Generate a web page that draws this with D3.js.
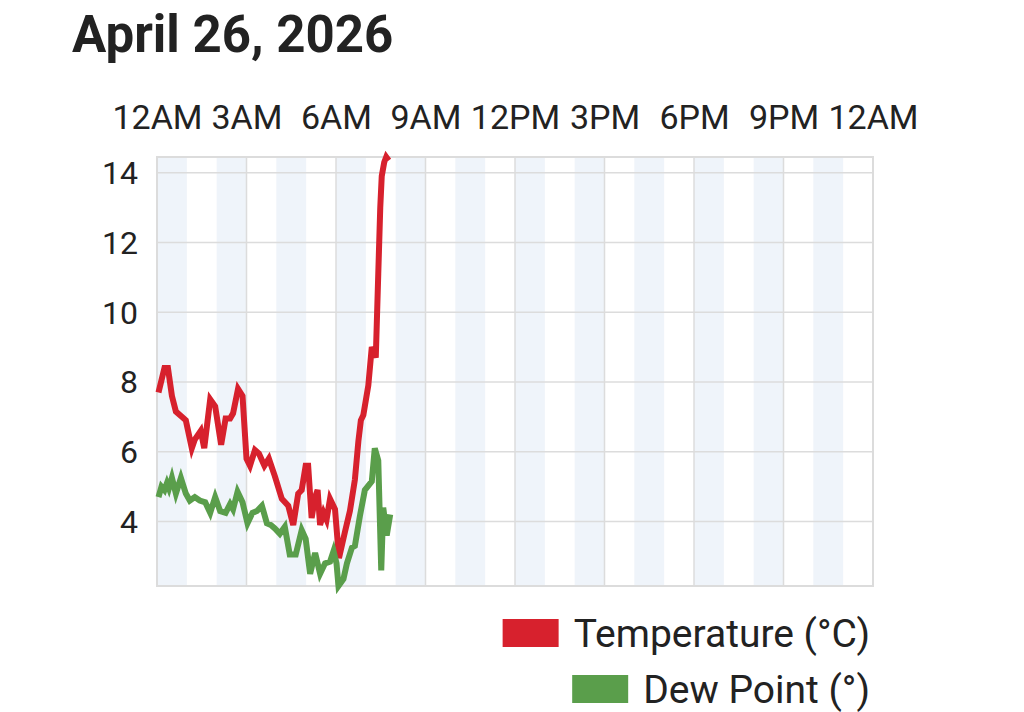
<!DOCTYPE html>
<html>
<head>
<meta charset="utf-8">
<script src="https://cdn.jsdelivr.net/npm/d3@7"></script>
<style>
  body { margin: 0; background: #fff; }
  text { font-family: Roboto, "Noto Sans", sans-serif; fill: #222; }
</style>
</head>
<body>
<script>
var title = "April 26, 2026";
var day = "2026-04-26";

var tempTimes = ["0:03","0:15","0:22","0:30","0:38","0:50","0:58","1:10","1:16","1:28","1:35","1:47","1:57","2:09","2:18","2:27","2:33","2:43","2:52","3:00","3:07","3:17","3:25","3:36","3:45","3:57","4:11","4:24","4:34","4:44","4:51","4:59","5:04","5:11","5:18","5:23","5:28","5:35","5:41","5:48","5:58","6:06","6:18","6:28","6:38","6:45","6:50","6:55","7:05","7:12","7:20","7:25","7:29","7:32","7:37","7:41","7:46"];
var tempValues = [7.7,8.4,8.4,7.6,7.15,7.0,6.9,6.1,6.35,6.6,6.1,7.5,7.3,6.2,6.95,6.95,7.1,7.8,7.6,5.8,5.6,6.05,5.95,5.6,5.8,5.3,4.65,4.45,3.9,4.8,4.9,5.6,5.6,4.1,4.7,4.9,3.9,4.25,4.05,4.65,4.35,2.95,3.7,4.3,5.2,6.3,6.9,7.05,7.9,9.0,8.7,11.1,13.0,13.9,14.3,14.45,14.35];

var dewTimes = ["0:03","0:09","0:15","0:20","0:24","0:30","0:38","0:48","0:58","1:06","1:16","1:26","1:37","1:47","1:57","2:07","2:18","2:27","2:33","2:42","2:52","3:02","3:12","3:21","3:31","3:41","3:49","3:57","4:07","4:17","4:27","4:39","4:51","4:59","5:08","5:18","5:28","5:38","5:48","5:55","6:01","6:05","6:15","6:22","6:32","6:38","6:48","6:58","7:12","7:18","7:25","7:31","7:35","7:42","7:49"];
var dewValues = [4.7,5.0,4.9,5.1,4.95,5.25,4.8,5.25,4.8,4.6,4.7,4.6,4.55,4.25,4.7,4.3,4.25,4.5,4.35,4.85,4.55,3.95,4.25,4.3,4.45,3.95,3.9,3.8,3.65,3.85,3.05,3.05,3.75,3.5,2.5,3.1,2.5,2.8,2.85,3.15,2.8,2.15,2.35,2.8,3.25,3.3,4.15,4.9,5.15,6.1,5.75,2.6,4.4,3.6,4.2];

var yTicks = [4, 6, 8, 10, 12, 14];
var seriesNames = ["Temperature (°C)", "Dew Point (°)"];
var seriesColors = ["#d7212d", "#5a9e4b"];

var width = 1024, height = 712;
var pLeft = 157, pRight = 873, pTop = 157, pBottom = 586;

var parse = d3.timeParse("%Y-%m-%d %H:%M");
function toPoints(times, values) {
  return times.map(function (t, i) { return { t: parse(day + " " + t), v: values[i] }; });
}
var temp = toPoints(tempTimes, tempValues);
var dew = toPoints(dewTimes, dewValues);

var start = parse(day + " 0:00");
var end = d3.timeDay.offset(start, 1);

var x = d3.scaleTime().domain([start, end]).range([pLeft, pRight]);
var y = d3.scaleLinear()
  .domain(d3.extent(tempValues.concat(dewValues)))
  .range([pBottom, pTop]);

var svg = d3.select("body").append("svg")
  .attr("width", width).attr("height", height);

// title
svg.append("text")
  .attr("x", 72).attr("y", 52)
  .attr("font-size", 51).attr("font-weight", "bold")
  .text(title);

// hourly bands
var hours = d3.timeHour.range(start, end).filter(function (d, i) { return i % 2 == 0; });
svg.selectAll("rect.band")
  .data(hours)
  .enter().append("rect")
  .attr("class", "band")
  .attr("x", function (d) { return x(d); })
  .attr("y", pTop)
  .attr("width", function (d) { return x(d3.timeHour.offset(d, 1)) - x(d); })
  .attr("height", pBottom - pTop)
  .attr("fill", "#eff4fa");

// grid
var xTicks = d3.timeHour.every(3).range(start, d3.timeMinute.offset(end, 1));
svg.selectAll("line.vgrid")
  .data(xTicks)
  .enter().append("line")
  .attr("class", "vgrid")
  .attr("x1", function (d) { return x(d); })
  .attr("x2", function (d) { return x(d); })
  .attr("y1", pTop).attr("y2", pBottom)
  .attr("stroke", "#dcdcdc").attr("stroke-width", 1.5);

svg.selectAll("line.hgrid")
  .data(yTicks)
  .enter().append("line")
  .attr("class", "hgrid")
  .attr("x1", pLeft).attr("x2", pRight)
  .attr("y1", function (d) { return y(d); })
  .attr("y2", function (d) { return y(d); })
  .attr("stroke", "#dcdcdc").attr("stroke-width", 1.5);

svg.append("rect")
  .attr("x", pLeft).attr("y", pTop)
  .attr("width", pRight - pLeft).attr("height", pBottom - pTop)
  .attr("fill", "none")
  .attr("stroke", "#dcdcdc").attr("stroke-width", 2);

// axes
var xAxis = svg.append("g")
  .attr("transform", "translate(0," + 118 + ")")
  .call(d3.axisTop(x).tickValues(xTicks).tickSize(0).tickPadding(0)
    .tickFormat(d3.timeFormat("%-I%p")));
xAxis.select(".domain").remove();
xAxis.selectAll("text")
  .attr("font-size", 34)
  .attr("dy", "0.32em")
  .style("font-family", "Roboto")
  .attr("fill", "#222");

var yAxis = svg.append("g")
  .attr("transform", "translate(" + pLeft + ",0)")
  .call(d3.axisLeft(y).tickValues(yTicks).tickSize(0).tickPadding(19));
yAxis.select(".domain").remove();
yAxis.selectAll("text")
  .attr("font-size", 32)
  .attr("dy", "0.34em")
  .style("font-family", "Roboto")
  .attr("fill", "#222");

// lines
var line = d3.line()
  .x(function (d) { return x(d.t); })
  .y(function (d) { return y(d.v); });

svg.append("path")
  .datum(temp)
  .attr("d", line)
  .attr("fill", "none")
  .attr("stroke", seriesColors[0])
  .attr("stroke-width", 6);

svg.append("path")
  .datum(dew)
  .attr("d", line)
  .attr("fill", "none")
  .attr("stroke", seriesColors[1])
  .attr("stroke-width", 6);

// legend, right aligned
var legend = svg.selectAll("g.legend")
  .data(seriesNames)
  .enter().append("g")
  .attr("class", "legend")
  .attr("transform", function (d, i) { return "translate(0," + (633 + i * 56) + ")"; });

legend.append("text")
  .attr("x", 870)
  .attr("dy", "0.36em")
  .attr("text-anchor", "end")
  .attr("font-size", 39)
  .text(function (d) { return d; });

legend.each(function (d, i) {
  var g = d3.select(this);
  var w = g.select("text").node().getComputedTextLength();
  g.insert("rect", "text")
    .attr("x", 870 - w - 15 - 56)
    .attr("y", -14)
    .attr("width", 56).attr("height", 28)
    .attr("fill", seriesColors[i]);
});
</script>
</body>
</html>
